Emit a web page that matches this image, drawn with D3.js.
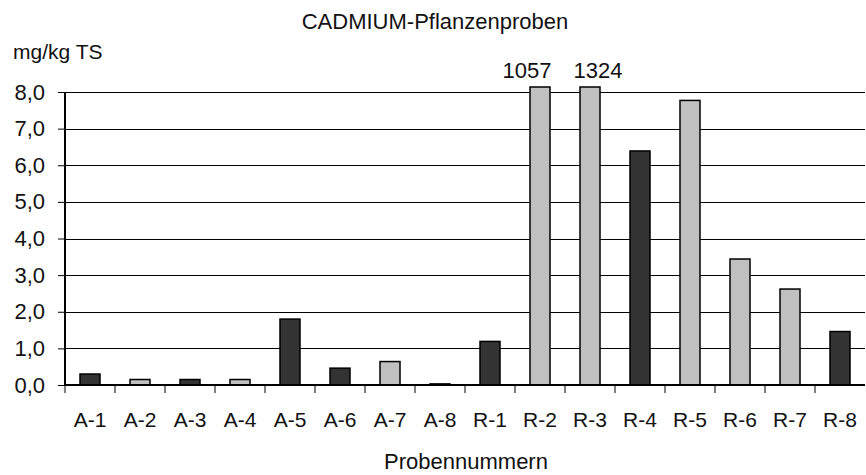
<!DOCTYPE html>
<html>
<head>
<meta charset="utf-8">
<script src="https://cdnjs.cloudflare.com/ajax/libs/d3/7.8.5/d3.min.js"></script>
<style>
body{margin:0;background:#fff;}
text{font-family:"Liberation Sans",Arial,sans-serif;fill:#111;}
</style>
</head>
<body>
<div class="graph"></div>
<script>
// Proben und Werte (mg/kg TS)
var samples=["A-1","A-2","A-3","A-4","A-5","A-6","A-7","A-8","R-1","R-2","R-3","R-4","R-5","R-6","R-7","R-8"];
var values=[0.30,0.15,0.15,0.15,1.80,0.46,0.64,0.03,1.19,1057,1324,6.39,7.77,3.44,2.62,1.46];
// 1 = dunkle Säule, 0 = helle Säule
var dark=[1,0,1,0,1,1,0,1,1,0,0,1,0,0,0,1];
var yTicks=[0,1,2,3,4,5,6,7,8];

const width=866;
const height=475;
const fs="22px";
var margin={top:92,bottom:90,left:65,right:1};

var svg=d3.select(".graph")
    .append("svg")
    .attr("width",width)
    .attr("height",height);

var scaleX=d3.scaleBand()
    .domain(samples)
    .range([margin.left,width-margin.right])
    .paddingInner(0.6)
    .paddingOuter(0.3);

var bandX=d3.scaleBand()
    .domain(samples)
    .range([margin.left,width-margin.right])
    .padding(0);

var scaleY=d3.scaleLinear()
    .domain([0,8])
    .range([height-margin.bottom,margin.top]);

var comma=d3.formatLocale({decimal:",",thousands:".",grouping:[3],currency:["","€"]}).format(".1f");

// Gitterlinien
svg.append("g")
    .selectAll("line")
    .data(yTicks.slice(1))
    .enter()
    .append("line")
    .attr("x1",margin.left)
    .attr("x2",width-margin.right)
    .attr("y1",d=>Math.round(scaleY(d))+0.5)
    .attr("y2",d=>Math.round(scaleY(d))+0.5)
    .attr("stroke","#000")
    .attr("stroke-width",1);

// Säulen, oben abgeschnitten
var yCap=scaleY(8)-5;
svg.append("g")
    .selectAll("rect")
    .data(samples)
    .enter()
    .append("rect")
    .attr("x",d=>scaleX(d))
    .attr("width",scaleX.bandwidth())
    .attr("y",(d,i)=>Math.max(yCap,scaleY(values[i])))
    .attr("height",(d,i)=>scaleY(0)-Math.max(yCap,scaleY(values[i])))
    .attr("fill",(d,i)=>dark[i]?"#333333":"#c0c0c0")
    .attr("stroke","#000")
    .attr("stroke-width",1.5);

// Werte der abgeschnittenen Säulen
var offs={"R-2":-13,"R-3":8};
svg.append("g")
    .selectAll("text")
    .data(samples.filter((d,i)=>values[i]>8))
    .enter()
    .append("text")
    .attr("x",d=>scaleX(d)+scaleX.bandwidth()/2+offs[d])
    .attr("y",78)
    .attr("text-anchor","middle")
    .style("font-size",fs)
    .text(d=>values[samples.indexOf(d)]);

// Y-Achse
var yAxis=d3.axisLeft(scaleY)
    .tickValues(yTicks)
    .tickSize(7)
    .tickPadding(13)
    .tickFormat(comma);
var gy=svg.append("g")
    .attr("transform","translate("+margin.left+",0)")
    .call(yAxis);
gy.select(".domain").attr("stroke-width",2).attr("d","M0,"+(scaleY(8))+"V"+(scaleY(0)));
gy.selectAll("text").style("font-size",fs).style("font-family","Liberation Sans, Arial, sans-serif").attr("fill","#111");

// X-Achse
svg.append("line")
    .attr("x1",margin.left)
    .attr("x2",width-margin.right)
    .attr("y1",scaleY(0))
    .attr("y2",scaleY(0))
    .attr("stroke","#000")
    .attr("stroke-width",2);

svg.append("g")
    .selectAll("line")
    .data(samples)
    .enter()
    .append("line")
    .attr("x1",d=>bandX(d))
    .attr("x2",d=>bandX(d))
    .attr("y1",scaleY(0))
    .attr("y2",scaleY(0)+8)
    .attr("stroke","#000")
    .attr("stroke-width",1);

svg.append("g")
    .selectAll("text")
    .data(samples)
    .enter()
    .append("text")
    .attr("x",d=>scaleX(d)+scaleX.bandwidth()/2)
    .attr("y",427)
    .attr("text-anchor","middle")
    .style("font-size","21px")
    .text(d=>d);

// Beschriftungen
svg.append("text")
    .attr("x",435)
    .attr("y",29)
    .attr("text-anchor","middle")
    .style("font-size",fs)
    .text("CADMIUM-Pflanzenproben");

svg.append("text")
    .attr("x",13)
    .attr("y",59)
    .style("font-size","21px")
    .text("mg/kg TS");

svg.append("text")
    .attr("x",466)
    .attr("y",469)
    .attr("text-anchor","middle")
    .style("font-size",fs)
    .text("Probennummern");
</script>
</body>
</html>
